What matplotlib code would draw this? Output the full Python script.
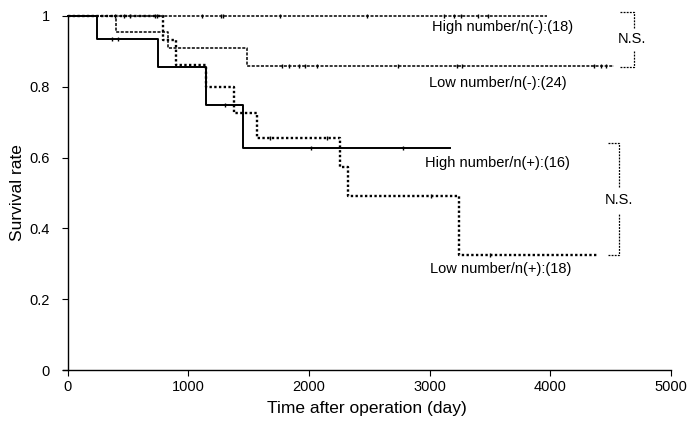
import numpy as np
import matplotlib
matplotlib.use('Agg')
import matplotlib.pyplot as plt

plt.rcParams['font.family'] = ['Liberation Sans', 'DejaVu Sans']

# step curves: event times (day) and survival after each step
high_neg_t = [0, 3970]
high_neg_s = [1.0, 1.0]
low_neg_t = [0, 398, 830, 1490, 4530]
low_neg_s = [1.0, 0.955, 0.909, 0.86, 0.86]
high_pos_t = [0, 240, 745, 1150, 1450, 3170]
high_pos_s = [1.0, 0.935, 0.855, 0.75, 0.626, 0.626]
low_pos_t = [0, 790, 895, 1150, 1375, 1570, 2255, 2325, 3240, 4385]
low_pos_s = [1.0, 0.932, 0.861, 0.80, 0.725, 0.655, 0.574, 0.492, 0.325, 0.325]

# censored cases
high_neg_c = [390, 470, 515, 720, 740, 1110, 1270, 1290, 1760, 2480, 3120, 3200, 3260, 3400, 3480]
low_neg_c = [1780, 1830, 1920, 1970, 2070, 2740, 3230, 3270, 4360, 4420, 4460]
high_pos_c = [370, 420, 1300, 2020, 2780]
low_pos_c = [1680, 2150, 3010, 3500]

labels = ['High number/n(-):(18)', 'Low number/n(-):(24)',
          'High number/n(+):(16)', 'Low number/n(+):(18)']
label_pos = [(3016, 0.969), (2995, 0.812), (2960, 0.586), (3000, 0.285)]

xticks = [0, 1000, 2000, 3000, 4000, 5000]
yticks = [0, 0.2, 0.4, 0.6, 0.8, 1.0]
ytick_labels = ['0', '0.2', '0.4', '0.6', '0.8', '1']


def surv_at(t, times, surv):
    idx = np.searchsorted(times, t, side='right') - 1
    return np.array(surv)[idx]


fig = plt.figure(figsize=(6.97, 4.21), dpi=100)
ax = fig.add_axes([0.0902, 0.1211, 0.8725, 0.8409])

curves = [
    (high_neg_t, high_neg_s, high_neg_c, dict(ls=(0, (2, 1)), lw=1.1)),
    (low_neg_t, low_neg_s, low_neg_c, dict(ls=(0, (2, 1)), lw=1.1)),
    (high_pos_t, high_pos_s, high_pos_c, dict(ls='-', lw=1.4)),
    (low_pos_t, low_pos_s, low_pos_c, dict(ls=(0, (1, 1)), lw=1.7)),
]
for t, s, c, style in curves:
    ax.step(t, s, where='post', color='black', clip_on=False, **style)
    ax.plot(c, surv_at(c, t, s), ls='none', marker='|', ms=3.5, mew=1.0,
            color='black', clip_on=False)

for lab, (x, y) in zip(labels, label_pos):
    ax.text(x, y, lab, fontsize=10.5, va='center', ha='left')

# N.S. brackets
br = dict(color='black', lw=0.9, ls=(0, (1.5, 1)), clip_on=False)
ax.plot([4578, 4690, 4690], [1.012, 1.012, 0.965], **br)
ax.plot([4578, 4690, 4690], [0.857, 0.857, 0.905], **br)
ax.text(4680, 0.935, 'N.S.', fontsize=10.5, ha='center', va='center')
ax.plot([4478, 4570, 4570], [0.642, 0.642, 0.518], **br)
ax.plot([4478, 4570, 4570], [0.325, 0.325, 0.443], **br)
ax.text(4570, 0.48, 'N.S.', fontsize=10.5, ha='center', va='center')

ax.set_xlim(-40, 5000)
ax.set_ylim(0, 1)
ax.spines['left'].set_position(('data', 0))
ax.spines['top'].set_visible(False)
ax.spines['right'].set_visible(False)
ax.spines['left'].set_linewidth(1.0)
ax.spines['bottom'].set_linewidth(1.0)
ax.set_xticks(xticks)
ax.set_yticks(yticks)
ax.set_yticklabels(ytick_labels)
ax.tick_params(direction='out', length=4, width=0.8, labelsize=10.5)
ax.tick_params(axis='y', pad=9)

ax.set_xlabel('Time after operation (day)', fontsize=12.5, labelpad=5)
ax.set_ylabel('Survival rate', fontsize=12.5, labelpad=3)

fig.savefig('out.png', dpi=100)
